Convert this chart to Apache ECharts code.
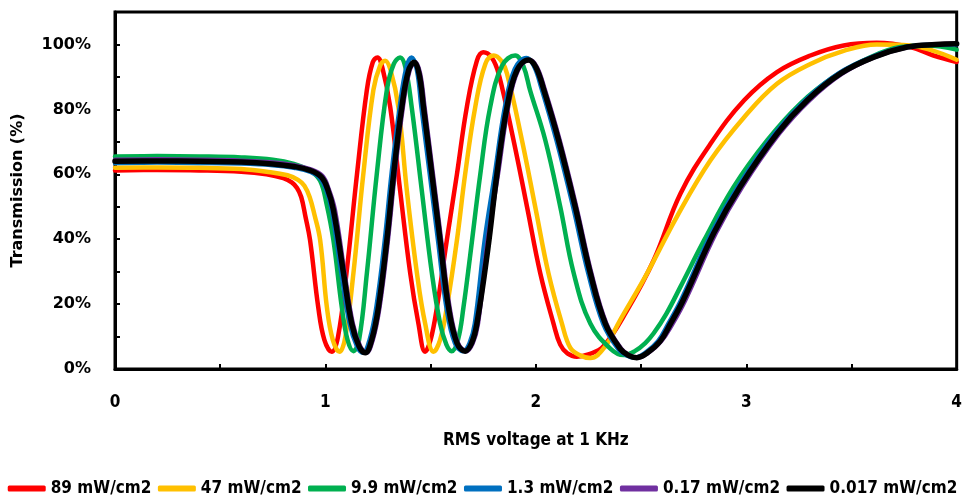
<!DOCTYPE html>
<html>
<head>
<meta charset="utf-8">
<script src="https://cdn.jsdelivr.net/npm/echarts@6/dist/echarts.min.js"></script>
<style>
html,body{margin:0;padding:0;background:#fff;}
#chart{width:965px;height:503px;}
</style>
</head>
<body>
<div id="chart"></div>
<script>
// ---- data ----
var seriesNames = ['89 mW/cm2', '47 mW/cm2', '9.9 mW/cm2', '1.3 mW/cm2', '0.17 mW/cm2', '0.017 mW/cm2'];
var xTickLabels = ['0', '1', '2', '3', '4'];
var yTickLabels = ['0%', '20%', '40%', '60%', '80%', '100%'];

var red89 = [[0,0.612],[0.2,0.613],[0.4,0.612],[0.6,0.608],[0.72,0.600],[0.80,0.588],[0.84,0.575],[0.865,0.558],[0.885,0.53],[0.905,0.47],[0.927,0.397],[0.966,0.19],[0.995,0.09],[1.03,0.053],[1.06,0.10],[1.10,0.295],[1.15,0.60],[1.197,0.86],[1.225,0.945],[1.247,0.96],[1.27,0.93],[1.308,0.807],[1.355,0.55],[1.403,0.295],[1.442,0.14],[1.474,0.053],[1.50,0.09],[1.53,0.19],[1.577,0.397],[1.625,0.60],[1.672,0.807],[1.72,0.95],[1.75,0.976],[1.79,0.96],[1.823,0.91],[1.894,0.705],[1.958,0.50],[2.021,0.295],[2.084,0.14],[2.116,0.075],[2.15,0.048],[2.195,0.038],[2.25,0.045],[2.32,0.069],[2.433,0.18],[2.56,0.335],[2.687,0.54],[2.83,0.694],[2.99,0.828],[3.146,0.915],[3.305,0.966],[3.463,0.997],[3.62,1.005],[3.78,0.992],[3.89,0.966],[4.0,0.946]];

var yellow47 = [[0,0.62],[0.2,0.621],[0.4,0.62],[0.6,0.616],[0.72,0.608],[0.82,0.597],[0.87,0.583],[0.9,0.565],[0.925,0.53],[0.948,0.475],[0.975,0.397],[1.007,0.19],[1.035,0.09],[1.067,0.053],[1.095,0.10],[1.133,0.295],[1.18,0.60],[1.228,0.86],[1.26,0.935],[1.284,0.95],[1.31,0.92],[1.347,0.807],[1.387,0.55],[1.435,0.295],[1.474,0.14],[1.514,0.053],[1.545,0.09],[1.577,0.19],[1.625,0.397],[1.664,0.60],[1.712,0.807],[1.76,0.94],[1.80,0.966],[1.835,0.95],[1.863,0.91],[1.934,0.705],[1.997,0.50],[2.06,0.295],[2.124,0.14],[2.164,0.065],[2.21,0.042],[2.259,0.034],[2.33,0.07],[2.40,0.15],[2.528,0.294],[2.67,0.469],[2.83,0.643],[2.99,0.776],[3.146,0.879],[3.305,0.94],[3.463,0.98],[3.62,1.0],[3.78,0.997],[3.89,0.98],[4.0,0.953]];

var green99 = [[0,0.655],[0.2,0.656],[0.4,0.655],[0.6,0.652],[0.75,0.645],[0.85,0.632],[0.93,0.61],[0.975,0.58],[1.005,0.51],[1.038,0.397],[1.078,0.19],[1.105,0.09],[1.133,0.055],[1.16,0.09],[1.197,0.295],[1.244,0.60],[1.292,0.86],[1.325,0.94],[1.355,0.96],[1.38,0.93],[1.41,0.807],[1.458,0.55],[1.506,0.295],[1.545,0.14],[1.575,0.075],[1.60,0.055],[1.63,0.09],[1.656,0.19],[1.688,0.35],[1.736,0.60],[1.783,0.807],[1.84,0.935],[1.902,0.966],[1.94,0.935],[1.973,0.858],[2.045,0.705],[2.116,0.50],[2.18,0.295],[2.259,0.14],[2.354,0.063],[2.417,0.043],[2.47,0.055],[2.52,0.08],[2.56,0.11],[2.62,0.17],[2.687,0.253],[2.80,0.397],[2.94,0.561],[3.10,0.705],[3.257,0.818],[3.416,0.90],[3.574,0.956],[3.733,0.992],[3.86,0.997],[4.0,0.984]];

var blue13 = [[0,0.635],[0.2,0.636],[0.4,0.635],[0.6,0.633],[0.75,0.628],[0.85,0.62],[0.93,0.607],[0.975,0.588],[1.005,0.55],[1.03,0.49],[1.076,0.295],[1.115,0.14],[1.15,0.07],[1.179,0.05],[1.21,0.09],[1.242,0.19],[1.282,0.397],[1.314,0.60],[1.353,0.807],[1.385,0.93],[1.41,0.96],[1.435,0.92],[1.456,0.807],[1.496,0.60],[1.535,0.397],[1.575,0.19],[1.615,0.08],[1.654,0.055],[1.685,0.08],[1.71,0.14],[1.757,0.397],[1.805,0.60],[1.853,0.807],[1.90,0.925],[1.955,0.958],[1.99,0.935],[2.027,0.865],[2.098,0.705],[2.177,0.50],[2.249,0.295],[2.32,0.14],[2.39,0.063],[2.43,0.042],[2.47,0.035],[2.52,0.05],[2.58,0.085],[2.63,0.14],[2.69,0.212],[2.835,0.418],[2.96,0.561],[3.136,0.725],[3.28,0.828],[3.437,0.91],[3.596,0.961],[3.755,0.992],[3.9,1.0],[4.0,1.0]];

var purple017 = [[0,0.645],[0.2,0.646],[0.4,0.645],[0.6,0.642],[0.75,0.636],[0.85,0.628],[0.93,0.615],[0.985,0.595],[1.015,0.555],[1.045,0.49],[1.091,0.295],[1.13,0.14],[1.165,0.07],[1.194,0.05],[1.225,0.09],[1.257,0.19],[1.297,0.397],[1.329,0.60],[1.368,0.807],[1.40,0.92],[1.427,0.945],[1.45,0.91],[1.471,0.807],[1.511,0.60],[1.55,0.397],[1.59,0.19],[1.63,0.08],[1.669,0.055],[1.70,0.08],[1.725,0.14],[1.772,0.397],[1.82,0.60],[1.868,0.807],[1.915,0.92],[1.97,0.952],[2.005,0.93],[2.042,0.862],[2.113,0.705],[2.192,0.50],[2.264,0.295],[2.335,0.14],[2.405,0.063],[2.445,0.042],[2.485,0.035],[2.535,0.05],[2.595,0.085],[2.65,0.14],[2.71,0.212],[2.855,0.418],[2.98,0.561],[3.156,0.725],[3.30,0.828],[3.455,0.91],[3.61,0.961],[3.77,0.992],[3.9,1.0],[4.0,1.002]];

var black0017 = [[0,0.64],[0.2,0.641],[0.4,0.64],[0.6,0.638],[0.75,0.632],[0.85,0.624],[0.927,0.612],[0.98,0.592],[1.01,0.555],[1.038,0.49],[1.086,0.295],[1.125,0.14],[1.16,0.07],[1.189,0.05],[1.22,0.09],[1.252,0.19],[1.292,0.397],[1.324,0.60],[1.363,0.807],[1.395,0.92],[1.422,0.945],[1.445,0.91],[1.466,0.807],[1.506,0.60],[1.545,0.397],[1.585,0.19],[1.625,0.08],[1.664,0.055],[1.695,0.08],[1.72,0.14],[1.772,0.37],[1.815,0.60],[1.863,0.807],[1.91,0.92],[1.965,0.952],[2.00,0.93],[2.037,0.862],[2.108,0.705],[2.187,0.50],[2.259,0.295],[2.33,0.14],[2.40,0.063],[2.44,0.042],[2.48,0.035],[2.53,0.05],[2.59,0.085],[2.64,0.14],[2.70,0.212],[2.845,0.418],[2.97,0.561],[3.146,0.725],[3.29,0.828],[3.447,0.91],[3.606,0.961],[3.765,0.992],[3.9,1.0],[4.0,1.002]];

var seriesData = [red89, yellow47, green99, blue13, purple017, black0017];

// ---- styles ----
var colors = ['#FF0000', '#FFC000', '#00B050', '#0070C0', '#7030A0', '#000000'];
var widths = [4.5, 4.5, 4.5, 4.5, 4.5, 5.5];
var condensed = "'DejaVu Sans Condensed', 'DejaVu Sans', sans-serif";
var wide = "'DejaVu Sans', sans-serif";

var chart = echarts.init(document.getElementById('chart'), null, {renderer: 'canvas'});

var series = seriesNames.map(function (name, i) {
  return {
    name: name,
    type: 'line',
    data: seriesData[i],
    symbol: 'none',
    showSymbol: false,
    smooth: 0.4,
    lineStyle: {color: colors[i], width: widths[i], cap: 'round', join: 'round'},
    itemStyle: {color: colors[i]},
    emphasis: {disabled: true},
    z: 2 + i
  };
});

chart.setOption({
  animation: false,
  backgroundColor: '#fff',
  color: colors,
  grid: {left: 115, right: 8, top: 12, bottom: 134, show: true, borderColor: '#000', borderWidth: 3, backgroundColor: 'transparent'},
  legend: {
    data: seriesNames,
    top: 480,
    left: 'center',
    padding: 0,
    icon: 'roundRect',
    itemWidth: 38,
    itemHeight: 6,
    itemGap: 6.5,
    textStyle: {fontFamily: condensed, fontWeight: 'bold', fontSize: 17, color: '#000'}
  },
  xAxis: {
    type: 'value',
    min: 0, max: 4, interval: 0.5,
    name: 'RMS voltage at 1 KHz',
    nameLocation: 'middle',
    nameGap: 63,
    nameTextStyle: {fontFamily: condensed, fontWeight: 'bold', fontSize: 17, color: '#000'},
    axisLine: {show: true, lineStyle: {color: '#000', width: 3}},
    axisTick: {show: true, inside: true, length: 5, lineStyle: {color: '#000', width: 2}},
    axisLabel: {
      margin: 25,
      fontFamily: condensed, fontWeight: 'bold', fontSize: 17, color: '#000',
      formatter: function (v) {
        var r = Math.round(v * 10);
        return (r % 10 === 0) ? xTickLabels[r / 10] : '';
      }
    },
    splitLine: {show: false}
  },
  yAxis: {
    type: 'value',
    min: 0, max: 1.1, interval: 0.1,
    name: 'Transmission (%)',
    nameLocation: 'middle',
    nameGap: 89,
    nameTextStyle: {fontFamily: wide, fontWeight: 'bold', fontSize: 16, color: '#000'},
    axisLine: {show: true, lineStyle: {color: '#000', width: 3}},
    axisTick: {show: true, inside: true, length: 5, lineStyle: {color: '#000', width: 2}},
    axisLabel: {
      margin: 24,
      fontFamily: wide, fontWeight: 'bold', fontSize: 16, color: '#000',
      formatter: function (v) {
        var r = Math.round(v * 10);
        return (r % 2 === 0 && r <= 10) ? yTickLabels[r / 2] : '';
      }
    },
    splitLine: {show: false}
  },
  series: series
});
</script>
</body>
</html>
